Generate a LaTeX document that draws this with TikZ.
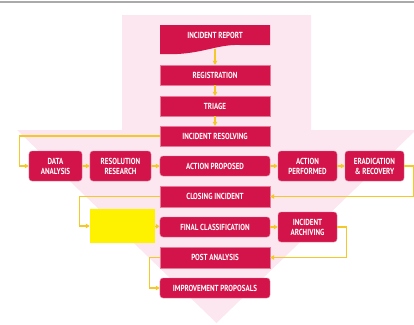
\documentclass[tikz,border=0pt]{standalone}
\usepackage{fontspec}
\setsansfont{PT Sans}[FakeStretch=0.8]
\usetikzlibrary{arrows.meta}
\definecolor{crimson}{HTML}{D3144A}
\definecolor{rimpink}{HTML}{E87A98}
\definecolor{pinkbg}{HTML}{FCE6EF}
\definecolor{flowyel}{HTML}{F5C82A}
\definecolor{railgray}{HTML}{AAAAAA}
\begin{document}
\begin{tikzpicture}[
    x=1bp,y=-1bp,
    blk/.style={fill=crimson,draw=rimpink,line width=0.4bp,text=white,
      font=\sffamily\bfseries\fontsize{8.8}{10}\selectfont,align=center,
      minimum width=110bp,minimum height=20bp,inner sep=0pt},
    rblk/.style={blk,rounded corners=3bp},
    small/.style={minimum width=59bp,minimum height=30bp},
    flow/.style={draw=flowyel,line width=1.1bp,
      -{Triangle[width=4.5bp,length=4bp]}}
  ]
  \useasboundingbox (0,0) rectangle (414,325);
  \fill[railgray] (0,1) rectangle (414,3.3);

  % big background arrow
  \fill[pinkbg] (122,15) -- (311,15) -- (311,130) -- (416,130)
    -- (216.5,323) -- (17,130) -- (122,130) -- cycle;

  % report sheet with wavy bottom
  \fill[crimson] (160,25) -- (270,25) -- (270,45) -- (240,45)
    .. controls (215,44) and (200,56) .. (160,54) -- cycle;
  \node[blk,fill=none,draw=none,minimum height=20bp] (report) at (215,35) {INCIDENT REPORT};

  % main column
  \node[blk] (reg) at (215,75) {REGISTRATION};
  \node[blk] (triage) at (215,106) {TRIAGE};
  \node[blk] (resolving) at (215,136) {INCIDENT RESOLVING};
  \node[rblk] (proposed) at (215,166) {ACTION PROPOSED};
  \node[blk,minimum height=21bp] (closing) at (215,196.5) {CLOSING INCIDENT};
  \node[rblk] (final) at (215,227) {FINAL CLASSIFICATION};
  \node[blk,minimum height=21bp] (post) at (215,257.5) {POST ANALYSIS};
  \node[rblk] (improve) at (215,288) {IMPROVEMENT PROPOSALS};

  % side boxes
  \node[rblk,small,minimum width=53bp] (analysis) at (55.5,166) {DATA\\ANALYSIS};
  \node[rblk,small,minimum width=61bp] (research) at (120.5,166) {RESOLUTION\\RESEARCH};
  \node[rblk,small] (performed) at (307.5,166) {ACTION\\PERFORMED};
  \node[rblk,small] (eradication) at (374.5,166) {ERADICATION\\\& RECOVERY};
  \node[rblk,small] (archiving) at (307.5,227) {INCIDENT\\ARCHIVING};
  \node[fill=yellow,minimum width=65bp,minimum height=34bp,inner sep=0pt] (pending) at (122.5,226) {};

  % connectors
  \draw[flow] (report.south |- 0,49) -- (reg);
  \draw[flow] (reg) -- (triage);
  \draw[flow] (triage) -- (resolving);
  \draw[flow] (resolving.west) -| ([xshift=-9bp]analysis.west) -- (analysis.west);
  \draw[flow] (analysis) -- (research);
  \draw[flow] (research) -- (proposed);
  \draw[flow] (proposed) -- (performed);
  \draw[flow] (performed) -- (eradication);
  \draw[flow] (eradication.east) -- ++(9bp,0) |- (closing.east);
  \draw[flow] (closing.west) -| ([xshift=-10bp]pending.west) -- (pending.west);
  \draw[flow] (pending) -- (final);
  \draw[flow] (final) -- (archiving);
  \draw[flow] (archiving.east) -- ++(9bp,0) |- (post.east);
  \draw[flow] (post.west) -- ++(-10bp,0) |- (improve.west);
\end{tikzpicture}
\end{document}
